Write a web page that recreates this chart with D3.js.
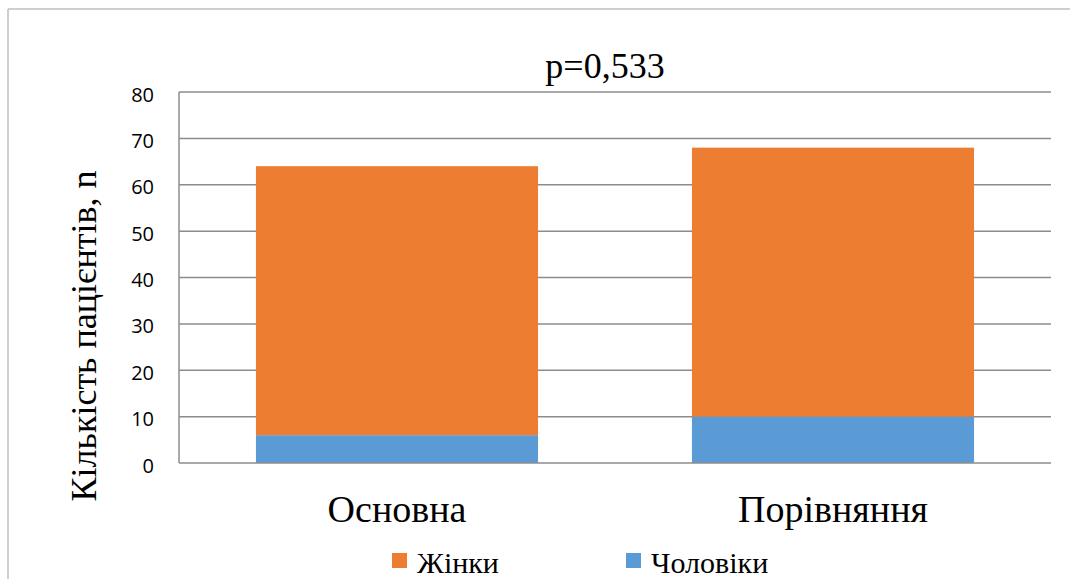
<!DOCTYPE html>
<html>
<head>
<meta charset="utf-8">
<script src="https://cdn.jsdelivr.net/npm/d3@7"></script>
<style>
  html, body { margin: 0; padding: 0; background: #fff; }
  svg { display: block; }
  .serif { font-family: "Liberation Serif", "Times New Roman", serif; }
  .sans { font-family: "Open Sans", Calibri, sans-serif; }
</style>
</head>
<body>
<svg id="chart" width="1070" height="579"></svg>
<script>
// Groups and patient counts by sex
const groups = ["Основна", "Порівняння"];
const men = [6, 10];
const women = [58, 58];
const seriesNames = ["Жінки", "Чоловіки"];
const yTicks = [0, 10, 20, 30, 40, 50, 60, 70, 80];
const titleText = "p=0,533";
const yTitle = "Кількість пацієнтів, n";

const colors = { "Чоловіки": "#5B9BD5", "Жінки": "#ED7D31" };
const gridColor = "#8c8c8c";

const svg = d3.select("#chart");
const W = 1070, H = 579;
const plot = { left: 179, right: 1051, top: 92, bottom: 463 };

// Frame edges
svg.append("line").attr("x1", 8).attr("x2", 8).attr("y1", 9).attr("y2", H)
  .attr("stroke", "#bfbfbf").attr("stroke-width", 1.5);
svg.append("line").attr("x1", 8).attr("x2", W).attr("y1", 9).attr("y2", 9)
  .attr("stroke", "#bfbfbf").attr("stroke-width", 1.5);

const x = d3.scaleBand().domain(groups)
  .range([plot.left, plot.right]).paddingInner(0.353).paddingOuter(0.1765);
const y = d3.scaleLinear().domain([0, 80]).range([plot.bottom, plot.top]);

// Horizontal gridlines
svg.append("g").selectAll("line").data(yTicks.filter(d => d > 0)).join("line")
  .attr("x1", plot.left).attr("x2", plot.right)
  .attr("y1", d => y(d)).attr("y2", d => y(d))
  .attr("stroke", gridColor).attr("stroke-width", 1.5);

// Stacked bars
const rows = groups.map((g, i) => ({ group: g, "Чоловіки": men[i], "Жінки": women[i] }));
const stack = d3.stack().keys(["Чоловіки", "Жінки"])(rows);
svg.append("g").selectAll("g").data(stack).join("g")
  .attr("fill", s => colors[s.key])
  .selectAll("rect").data(s => s).join("rect")
  .attr("x", d => x(d.data.group))
  .attr("width", x.bandwidth())
  .attr("y", d => y(d[1]))
  .attr("height", d => y(d[0]) - y(d[1]));

// Axis lines
svg.append("line").attr("x1", plot.left).attr("x2", plot.left)
  .attr("y1", plot.top).attr("y2", plot.bottom)
  .attr("stroke", gridColor).attr("stroke-width", 1.5);
svg.append("line").attr("x1", plot.left).attr("x2", plot.right)
  .attr("y1", plot.bottom).attr("y2", plot.bottom)
  .attr("stroke", gridColor).attr("stroke-width", 1.5);

// Y tick labels
const yAxis = d3.axisLeft(y).tickValues(yTicks).tickSize(0).tickPadding(25);
const gy = svg.append("g").attr("transform", `translate(${plot.left},0)`).call(yAxis)
  .attr("font-family", null).attr("font-size", null);
gy.select(".domain").remove();
gy.selectAll("text").attr("class", "sans").attr("font-size", 20)
  .attr("fill", "#000").attr("dy", "0.45em");

// Category labels
const xAxis = d3.axisBottom(x).tickSize(0).tickPadding(0);
const gx = svg.append("g").attr("transform", `translate(0,${plot.bottom})`).call(xAxis)
  .attr("font-family", null).attr("font-size", null);
gx.select(".domain").remove();
gx.selectAll("text").attr("class", "serif").attr("font-size", 38)
  .attr("fill", "#000").attr("dy", null).attr("y", 59);

// Title
svg.append("text").attr("class", "serif")
  .attr("x", 605).attr("y", 78).attr("text-anchor", "middle")
  .attr("font-size", 36).attr("fill", "#000")
  .text(titleText);

// Y axis title
svg.append("text").attr("class", "serif")
  .attr("transform", "translate(96,336) rotate(-90)")
  .attr("text-anchor", "middle")
  .attr("font-size", 36).attr("fill", "#000")
  .text(yTitle);

// Legend
const legendX = [392, 626];
const lg = svg.append("g").selectAll("g").data(seriesNames).join("g")
  .attr("transform", (d, i) => `translate(${legendX[i]},553)`);
lg.append("rect").attr("width", 15).attr("height", 15).attr("fill", d => colors[d]);
lg.append("text").attr("class", "serif").attr("x", 25).attr("y", 20)
  .attr("font-size", 30).attr("fill", "#000")
  .text(d => d);
</script>
</body>
</html>
